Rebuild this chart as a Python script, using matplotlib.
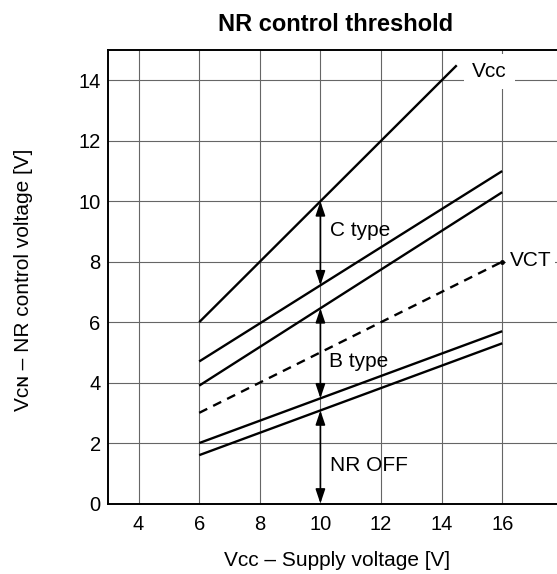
import numpy as np
import matplotlib
matplotlib.use('Agg')
import matplotlib.pyplot as plt

plt.rcParams['font.family'] = ['Liberation Sans', 'DejaVu Sans']

# line end points (x = supply voltage, y = control voltage)
vcc_x = [6, 14.5]
vcc_y = [6, 14.5]
c_upper_x = [6, 16]
c_upper_y = [4.7, 11.0]
c_lower_x = [6, 16]
c_lower_y = [3.9, 10.3]
vct_x = [6, 16]
vct_y = [3.0, 8.0]
b_upper_x = [6, 16]
b_upper_y = [2.0, 5.7]
b_lower_x = [6, 16]
b_lower_y = [1.6, 5.3]

arrow_x = 10
x_ticks = [4, 6, 8, 10, 12, 14, 16]
y_ticks = [0, 2, 4, 6, 8, 10, 12, 14]

W, H = 557, 574
fig = plt.figure(figsize=(W / 100, H / 100), dpi=100)
ax = fig.add_axes([108.3 / W, 70.5 / H, 454.5 / W, 453.3 / H])

lw = 1.7
ax.plot(vcc_x, vcc_y, color='black', lw=lw, solid_capstyle='butt')
ax.plot(c_upper_x, c_upper_y, color='black', lw=lw, solid_capstyle='butt')
ax.plot(c_lower_x, c_lower_y, color='black', lw=lw, solid_capstyle='butt')
ax.plot(vct_x, vct_y, color='black', lw=lw, linestyle=(0, (3.8, 2.8)))
ax.plot(vct_x[-1:], vct_y[-1:], 'o', color='black', ms=2.5)
ax.plot(b_upper_x, b_upper_y, color='black', lw=lw, solid_capstyle='butt')
ax.plot(b_lower_x, b_lower_y, color='black', lw=lw, solid_capstyle='butt')

# double arrows at Vcc = 10 V between the threshold lines
y_vcc = np.interp(arrow_x, vcc_x, vcc_y)
y_cu = np.interp(arrow_x, c_upper_x, c_upper_y)
y_cl = np.interp(arrow_x, c_lower_x, c_lower_y)
y_bu = np.interp(arrow_x, b_upper_x, b_upper_y)
y_bl = np.interp(arrow_x, b_lower_x, b_lower_y)

aprops = dict(arrowstyle='<|-|>,head_length=0.86,head_width=0.29',
              mutation_scale=10, color='black', lw=1.2,
              shrinkA=0, shrinkB=0)
for top, bottom in [(y_vcc, y_cu), (y_cl, y_bu), (y_bl, 0)]:
    ax.annotate('', xy=(arrow_x, bottom), xytext=(arrow_x, top),
                arrowprops=aprops)

fs = 15
ax.text(10.32, 8.86, 'C type', fontsize=fs, va='baseline')
ax.text(10.28, 4.53, 'B type', fontsize=fs, va='baseline')
ax.text(10.32, 1.09, 'NR OFF', fontsize=fs, va='baseline')
ax.text(15.0, 14.11, 'V\u1d04\u1d04', fontsize=fs, va='baseline',
        bbox=dict(facecolor='white', edgecolor='none', pad=6))
ax.text(16.24, 7.86, 'VCT', fontsize=fs, va='baseline',
        bbox=dict(facecolor='white', edgecolor='none', pad=2.5))

ax.set_xlim(3, 18)
ax.set_ylim(0, 15)
ax.set_xticks(x_ticks)
ax.set_yticks(y_ticks)
ax.tick_params(length=0, labelsize=14.5)
ax.tick_params(axis='x', pad=8.5)
ax.tick_params(axis='y', pad=5.5)
ax.grid(True, color='#666666', lw=0.8)
ax.set_axisbelow(True)
for s in ax.spines.values():
    s.set_linewidth(1.4)

fig.text(336 / W, 1 - 30.7 / H, 'NR control threshold', fontsize=17,
         fontweight='bold', ha='center', va='baseline')
fig.text(337.5 / W, 1 - 566 / H, 'V\u1d04\u1d04 \u2013 Supply voltage [V]',
         fontsize=fs, ha='center', va='baseline')
fig.text(29.3 / W, 1 - 280 / H, 'V\u1d04\u0274 \u2013 NR control voltage [V]',
         fontsize=fs, ha='center', va='baseline', rotation=90,
         rotation_mode='anchor')

fig.savefig('out.png', dpi=100, facecolor='white')
